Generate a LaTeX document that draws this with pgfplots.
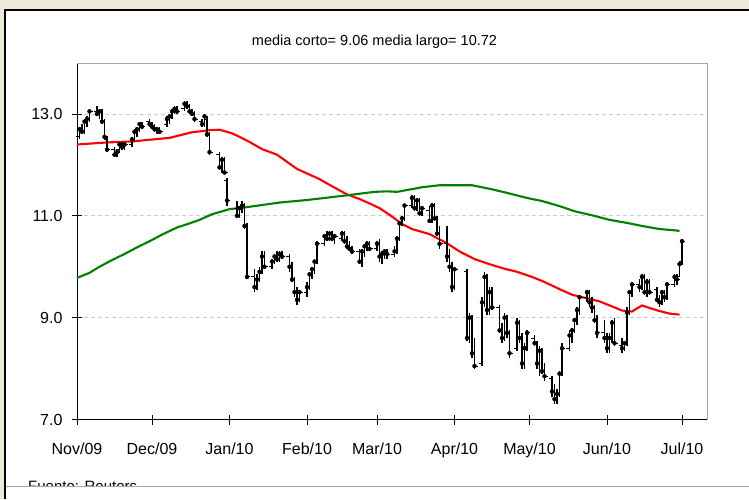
\documentclass[border=0pt]{standalone}
\usepackage{pgfplots}
\pgfplotsset{compat=1.18}
\usepackage{pgfplotstable}
\usepackage{fontspec}
\setmainfont{Liberation Sans}
\definecolor{xpbeige}{RGB}{236,233,216}
\definecolor{xpline}{RGB}{172,168,153}
\definecolor{magreen}{RGB}{0,128,0}
\pgfdeclareplotmark{otick}{\pgfsetbuttcap\pgfsetmiterjoin\pgfpathmoveto{\pgfpoint{-3.2pt}{0pt}}\pgfpathlineto{\pgfpoint{0pt}{0pt}}\pgfusepathqstroke}
\pgfdeclareplotmark{ctick}{\pgfsetbuttcap\pgfsetmiterjoin\pgfpathmoveto{\pgfpoint{0pt}{0pt}}\pgfpathlineto{\pgfpoint{3.2pt}{0pt}}\pgfusepathqstroke}

\pgfplotstableread{
d o h l c
1 12.55 12.75 12.50 12.70
2 12.70 12.80 12.60 12.65
3 12.65 12.90 12.60 12.85
4 12.85 12.95 12.75 12.90
5 12.90 13.10 12.85 13.05
8 13.05 13.15 12.95 13.00
9 13.00 13.10 12.90 13.05
10 13.05 13.10 12.80 12.85
11 12.85 12.90 12.50 12.55
12 12.50 12.55 12.25 12.30
15 12.30 12.35 12.15 12.20
16 12.20 12.30 12.15 12.25
17 12.30 12.45 12.25 12.40
18 12.40 12.45 12.30 12.35
19 12.35 12.45 12.30 12.40
22 12.40 12.55 12.35 12.50
23 12.50 12.70 12.45 12.65
24 12.65 12.75 12.55 12.70
25 12.70 12.85 12.65 12.80
26 12.80 12.85 12.70 12.75
29 12.85 12.90 12.75 12.80
30 12.80 12.85 12.70 12.75
31 12.75 12.80 12.65 12.70
32 12.70 12.75 12.60 12.70
33 12.70 12.75 12.60 12.65
36 12.80 12.95 12.75 12.90
37 12.90 13.00 12.80 12.95
38 12.95 13.10 12.90 13.05
39 13.05 13.15 13.00 13.10
40 13.10 13.15 13.00 13.05
43 13.10 13.25 13.05 13.20
44 13.20 13.25 13.10 13.15
45 13.15 13.20 13.00 13.05
46 13.05 13.10 12.95 13.00
47 13.00 13.05 12.85 12.90
50 12.85 12.90 12.75 12.80
51 12.80 13.00 12.75 12.95
52 12.90 12.95 12.55 12.60
53 12.60 12.65 12.20 12.25
57 12.20 12.25 11.90 11.95
58 11.95 12.15 11.85 12.10
59 12.10 12.15 11.80 11.85
60 11.70 11.75 11.20 11.30
64 11.15 11.30 10.95 11.00
65 11.00 11.20 10.95 11.15
66 11.15 11.30 11.05 11.20
67 11.20 11.25 10.75 10.80
68 10.80 10.85 9.75 9.80
71 9.80 9.95 9.50 9.60
72 9.60 9.85 9.55 9.75
73 9.75 10.00 9.70 9.90
74 9.90 10.30 9.85 10.20
75 10.20 10.30 9.95 10.00
78 10.00 10.15 9.95 10.10
79 10.10 10.25 10.05 10.20
80 10.20 10.30 10.10 10.15
81 10.15 10.30 10.10 10.25
82 10.25 10.30 10.15 10.20
85 10.20 10.25 9.90 10.00
86 10.00 10.10 9.70 9.75
87 9.75 9.80 9.40 9.50
88 9.50 9.60 9.25 9.35
89 9.35 9.55 9.30 9.50
92 9.50 9.70 9.40 9.60
93 9.60 9.90 9.55 9.85
94 9.85 10.00 9.75 9.95
95 9.95 10.15 9.85 10.10
96 10.10 10.50 10.05 10.45
99 10.45 10.65 10.40 10.60
100 10.60 10.70 10.50 10.55
101 10.55 10.70 10.50 10.65
102 10.65 10.70 10.50 10.55
103 10.55 10.65 10.45 10.60
106 10.55 10.70 10.50 10.65
107 10.65 10.70 10.45 10.50
108 10.50 10.60 10.35 10.40
109 10.40 10.50 10.30 10.35
110 10.35 10.40 10.25 10.30
113 10.30 10.35 10.05 10.10
114 10.10 10.35 10.00 10.30
115 10.30 10.45 10.20 10.40
116 10.40 10.50 10.30 10.45
117 10.45 10.50 10.30 10.35
120 10.35 10.50 10.30 10.45
121 10.45 10.55 10.10 10.20
122 10.20 10.30 10.05 10.25
123 10.25 10.35 10.15 10.30
124 10.30 10.35 10.15 10.25
127 10.25 10.40 10.20 10.30
128 10.30 10.60 10.25 10.55
129 10.55 10.90 10.50 10.85
130 10.85 11.00 10.80 10.95
131 10.95 11.25 10.90 11.20
134 11.20 11.40 11.15 11.35
135 11.35 11.40 11.10 11.15
136 11.15 11.35 11.10 11.30
137 11.30 11.35 11.00 11.05
138 11.05 11.20 11.00 11.15
141 11.10 11.20 10.85 10.90
142 10.90 11.25 10.85 11.20
143 11.20 11.25 10.90 10.95
144 10.95 11.00 10.60 10.65
145 10.65 10.80 10.35 10.45
148 10.45 10.80 10.10 10.20
149 10.20 10.35 9.90 10.00
150 10.00 10.10 9.50 9.60
151 9.60 10.00 9.55 9.95
156 9.90 9.95 8.55 8.60
157 8.60 9.10 8.50 9.00
158 9.00 9.05 8.20 8.30
159 8.30 8.60 8.00 8.05
162 8.10 9.40 8.05 9.30
163 9.30 9.90 9.20 9.80
164 9.80 9.85 9.05 9.15
165 9.15 9.60 9.05 9.50
166 9.50 9.60 9.15 9.20
169 9.20 9.25 8.70 8.75
170 8.75 8.90 8.50 8.60
171 8.60 9.10 8.55 9.00
172 9.00 9.05 8.60 8.70
173 8.70 8.75 8.20 8.30
176 8.40 9.00 8.35 8.90
177 8.90 8.95 8.50 8.60
178 8.60 8.70 8.00 8.10
179 8.10 8.50 8.00 8.40
180 8.40 8.75 8.35 8.70
183 8.60 8.65 8.45 8.50
184 8.50 8.55 8.00 8.10
185 8.10 8.45 7.85 8.35
186 8.35 8.40 7.90 7.95
187 7.95 8.10 7.75 7.85
190 7.80 7.85 7.45 7.55
191 7.55 7.70 7.30 7.40
192 7.40 7.60 7.30 7.50
193 7.50 7.95 7.45 7.90
194 7.90 8.50 7.85 8.40
197 8.40 8.75 8.35 8.65
198 8.65 8.80 8.50 8.75
199 8.75 9.00 8.70 8.95
200 8.95 9.20 8.85 9.15
201 9.15 9.45 9.05 9.40
204 9.40 9.55 9.30 9.50
205 9.50 9.55 9.20 9.30
206 9.30 9.40 9.10 9.20
207 9.20 9.25 8.90 8.95
208 8.95 9.05 8.60 8.70
211 8.70 8.95 8.50 8.60
212 8.60 8.70 8.30 8.40
213 8.40 8.70 8.30 8.60
214 8.60 8.95 8.50 8.90
215 8.90 9.00 8.45 8.50
218 8.45 8.60 8.30 8.40
219 8.40 8.55 8.35 8.50
220 8.50 9.20 8.45 9.10
221 9.10 9.55 9.05 9.50
222 9.50 9.70 9.40 9.65
225 9.65 9.75 9.50 9.60
226 9.60 9.85 9.55 9.80
227 9.80 9.85 9.45 9.50
228 9.50 9.75 9.40 9.70
229 9.70 9.75 9.45 9.50
232 9.55 9.60 9.30 9.35
233 9.35 9.45 9.20 9.30
234 9.30 9.55 9.25 9.50
235 9.50 9.55 9.30 9.40
236 9.40 9.70 9.35 9.65
239 9.65 9.85 9.60 9.80
240 9.80 9.85 9.65 9.75
241 9.80 10.10 9.80 10.05
242 10.10 10.55 10.05 10.50
}\ohlc

\pgfplotstableread{
d v
0 12.40
12 12.44
22 12.46
37 12.53
46 12.64
53 12.68
57 12.69
62 12.62
65 12.55
69 12.45
74 12.31
80 12.20
88 11.92
97 11.72
102 11.58
108 11.42
113 11.33
118 11.22
121 11.15
125 11.02
130 10.84
134 10.74
141 10.64
148 10.46
153 10.30
159 10.15
165 10.05
171 9.96
176 9.90
182 9.80
187 9.70
193 9.56
198 9.45
204 9.38
209 9.32
214 9.22
218 9.14
222 9.12
224 9.18
226 9.24
229 9.19
233 9.13
237 9.08
241 9.06
}\corto

\pgfplotstableread{
d v
0 9.78
5 9.88
9 10.00
14 10.13
19 10.25
24 10.38
29 10.50
34 10.63
40 10.77
45 10.85
49 10.92
54 11.03
61 11.13
68 11.17
81 11.26
92 11.31
106 11.39
119 11.47
124 11.48
128 11.47
138 11.56
145 11.60
158 11.60
166 11.52
172 11.45
180 11.35
186 11.29
193 11.19
199 11.09
206 11.01
213 10.92
220 10.86
226 10.80
233 10.74
240 10.71
241 10.70
}\largo

\begin{document}
\begin{tikzpicture}[x=1pt,y=1pt]
\path[use as bounding box] (0,0) rectangle (749,499);
\fill[white] (0,0) rectangle (749,499);
\fill[xpbeige] (0,489) rectangle (749,499);
\fill[xpbeige] (0,0) rectangle (4.5,499);
\draw[black, line width=1.2pt] (5,0) -- (5,489) -- (749,489);
\begin{scope}
\clip (5.6,13) rectangle (749,488);
\node[anchor=north west, font=\fontsize{15}{18}\selectfont, inner sep=0pt] at (28,18) {Fuente: Reuters};
\end{scope}
\draw[xpline, line width=1pt] (5.6,13) -- (749,13);
\node[font=\fontsize{14.5}{17}\selectfont] at (374.5,457) {media corto= 9.06 media largo= 10.72};
\begin{axis}[
  at={(77pt,79.5pt)}, anchor=south west,
  scale only axis, width=630pt, height=356.5pt,
  xmin=0, xmax=252, ymin=7, ymax=14,
  axis x line*=bottom, axis y line*=left,
  axis line style={-, black, line width=0.8pt},
  xtick={0,30,61,92,120,151,181,212,242},
  xticklabels={Nov/09,Dec/09,Jan/10,Feb/10,Mar/10,Apr/10,May/10,Jun/10,Jul/10},
  ytick={9,11,13},
  extra y ticks={7}, extra y tick labels={7.0}, extra y tick style={grid=none},
  yticklabel style={xshift=-6pt, /pgf/number format/.cd, fixed, fixed zerofill, precision=1},
  /pgf/number format/assume math mode=true,
  ymajorgrids,
  grid style={gray!40, dash pattern=on 3.5pt off 3.5pt, line width=0.7pt},
  ticklabel style={font=\fontsize{16}{19}\selectfont},
  xticklabel style={yshift=-15pt},
  tick align=center, major tick length=10pt,
  tick style={black, line width=0.8pt},
  clip=false,
]
\addplot[red, line width=2.1pt] table[x=d, y=v] {\corto};
\addplot[magreen, line width=2.1pt] table[x=d, y=v] {\largo};
\addplot[only marks, mark=none,
  error bars/.cd, y dir=both, y explicit, error mark=none,
  error bar style={draw=black, solid, line width=1.1pt}]
  table[x=d, y=c, y error plus expr=\thisrow{h}-\thisrow{c}, y error minus expr=\thisrow{c}-\thisrow{l}] {\ohlc};
\addplot[only marks, mark=otick, mark options={black, line width=0.9pt}] table[x=d, y=o] {\ohlc};
\addplot[only marks, mark=ctick, mark options={black, line width=0.9pt}] table[x=d, y=c] {\ohlc};
\draw[gray!70, line width=0.8pt] (rel axis cs:0,1) -- (rel axis cs:1,1) -- (rel axis cs:1,0);
\end{axis}
\end{tikzpicture}
\end{document}
